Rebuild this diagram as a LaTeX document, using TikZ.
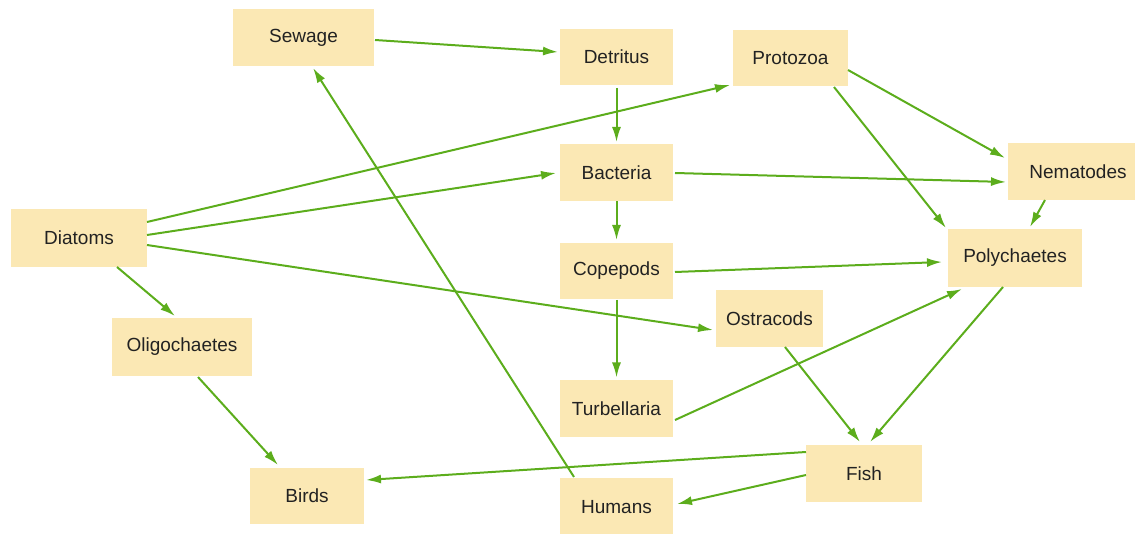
\documentclass[tikz,border=0pt]{standalone}
\usepackage{fontspec}
\setmainfont{Liberation Sans}
\usetikzlibrary{arrows.meta,calc}
\definecolor{boxfill}{HTML}{FBE8B4}
\definecolor{arrgreen}{HTML}{5CAD1C}
\definecolor{txt}{HTML}{222222}
\begin{document}
\begin{tikzpicture}[x=1pt,y=-1pt,
  box/.style={fill=boxfill,draw=none,inner sep=0pt,text=txt,font=\fontsize{19}{21}\selectfont},
  flow/.style={draw=arrgreen,line width=2pt,-{Latex[length=15pt,width=9pt]}}]
\useasboundingbox (0,0) rectangle (1135,534);
\node[box,minimum width=141,minimum height=57] (sew) at (303.5,37.5) {Sewage};
\node[box,minimum width=113,minimum height=56] (det) at (616.5,57) {Detritus};
\node[box,minimum width=115,minimum height=56] (pro) at (790.5,58) {Protozoa};
\node[box,minimum width=113,minimum height=57] (bac) at (616.5,172.5) {Bacteria};
\node[box,minimum width=140,minimum height=57] (nem) at (1078,171.5) {Nematodes};
\node[box,minimum width=136,minimum height=58] (dia) at (79,238) {Diatoms};
\node[box,minimum width=134,minimum height=58] (pol) at (1015,258) {Polychaetes};
\node[box,minimum width=113,minimum height=56] (cop) at (616.5,271) {Copepods};
\node[box,minimum width=107,minimum height=57] (ost) at (769.5,318.5) {Ostracods};
\node[box,minimum width=140,minimum height=58] (oli) at (182,347) {Oligochaetes};
\node[box,minimum width=113,minimum height=57] (tur) at (616.5,408.5) {Turbellaria};
\node[box,minimum width=116,minimum height=57] (fis) at (864,473.5) {Fish};
\node[box,minimum width=114,minimum height=56] (bir) at (307,496) {Birds};
\node[box,minimum width=113,minimum height=58] (hum) at (616.5,507) {Humans};
\draw[flow] ($(sew)+(71.5,2.5)$) -- ($(det)+(-58.5,-5)$);
\draw[flow] ($(det)+(0,31)$) -- ($(bac)+(0,-30.5)$);
\draw[flow] ($(dia)+(68,-16)$) -- ($(pro)+(-60.5,27)$);
\draw[flow] ($(dia)+(68,-3)$) -- ($(bac)+(-60.5,0.5)$);
\draw[flow] ($(dia)+(68,7)$) -- ($(ost)+(-56.5,11.5)$);
\draw[flow] ($(dia)+(38,29)$) -- ($(oli)+(-7,-31)$);
\draw[flow] ($(bac)+(58.5,0.5)$) -- ($(nem)+(-72,10.5)$);
\draw[flow] ($(bac)+(0,29)$) -- ($(cop)+(0,-31)$);
\draw[flow] ($(pro)+(57.5,12)$) -- ($(nem)+(-73,-13.5)$);
\draw[flow] ($(pro)+(43.5,29)$) -- ($(pol)+(-69,-30)$);
\draw[flow] ($(nem)+(-33,28.5)$) -- ($(pol)+(15,-31)$);
\draw[flow] ($(cop)+(58.5,1)$) -- ($(pol)+(-73,4)$);
\draw[flow] ($(cop)+(0,29)$) -- ($(tur)+(0,-31)$);
\draw[flow] ($(tur)+(58.5,11.5)$) -- ($(pol)+(-53,31)$);
\draw[flow] ($(ost)+(15.5,28.5)$) -- ($(fis)+(-4,-31.5)$);
\draw[flow] ($(pol)+(-12,29)$) -- ($(fis)+(6,-31.5)$);
\draw[flow] ($(oli)+(16,30)$) -- ($(bir)+(-29,-31)$);
\draw[flow] ($(fis)+(-58,-21.5)$) -- ($(bir)+(59,-16)$);
\draw[flow] ($(fis)+(-58,1.5)$) -- ($(hum)+(60.5,-3)$);
\draw[flow] ($(hum)+(-42.5,-30)$) -- ($(sew)+(9.5,30.5)$);
\end{tikzpicture}
\end{document}
